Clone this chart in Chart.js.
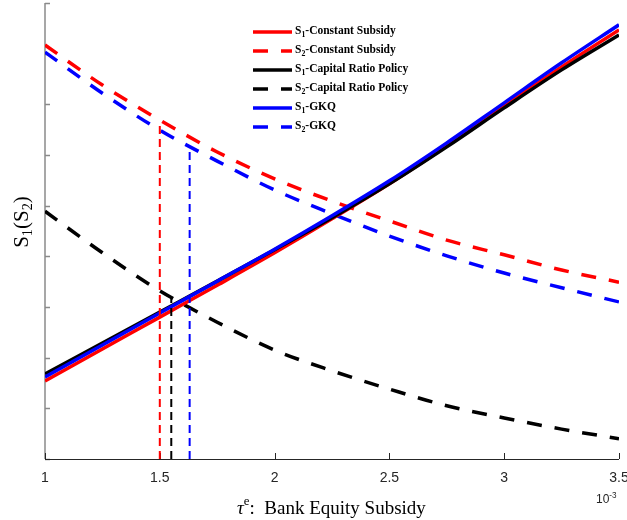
<!DOCTYPE html>
<html>
<head>
<meta charset="utf-8">
<script src="https://cdn.jsdelivr.net/npm/chart.js@4"></script>
<style>
  html, body { margin: 0; padding: 0; background: #fff; }
</style>
</head>
<body>
<canvas id="grafico" width="627" height="520"></canvas>
<script>
// subsidio (en unidades de 10^-3)
const subsidio = [1, 1.25, 1.5, 1.75, 2, 2.25, 2.5, 2.75, 3, 3.25, 3.5];

const s1Constante = [1.54, 2.17, 2.80, 3.43, 4.07, 4.74, 5.43, 6.18, 6.97, 7.74, 8.47];
const s2Constante = [8.17, 7.38, 6.69, 6.06, 5.53, 5.09, 4.70, 4.32, 4.03, 3.73, 3.49];
const s1Capital   = [1.68, 2.29, 2.90, 3.51, 4.13, 4.76, 5.43, 6.16, 6.93, 7.68, 8.37];
const s2Capital   = [4.89, 4.07, 3.32, 2.70, 2.15, 1.74, 1.38, 1.05, 0.81, 0.59, 0.40];
const s1Gkq       = [1.62, 2.25, 2.88, 3.51, 4.14, 4.80, 5.49, 6.24, 7.03, 7.82, 8.57];
const s2Gkq       = [8.03, 7.22, 6.49, 5.88, 5.31, 4.84, 4.40, 4.01, 3.67, 3.38, 3.10];

// lineas verticales: subsidio y altura
const cortesX = [1.5, 1.55, 1.63];
const cortesY = [6.64, 3.20, 6.12];

const ticksX = [1, 1.5, 2, 2.5, 3, 3.5];
const etiquetasX = ['1', '1.5', '2', '2.5', '3', '3.5'];
const ticksY = [0, 1, 2, 3, 4, 5, 6, 7, 8, 9];

const politicas = ['Constant Subsidy', 'Capital Ratio Policy', 'GKQ'];
const colores = ['#ff0000', '#000000', '#0000ff'];

const puntos = (ys) => subsidio.map((x, i) => ({ x: x, y: ys[i] }));

function curva(ys, color, punteada, orden) {
    return {
        data: puntos(ys),
        borderColor: color,
        borderWidth: 3.5,
        borderDash: punteada ? [15, 13] : [],
        cubicInterpolationMode: 'monotone',
        pointRadius: 0,
        order: orden
    };
}

function vertical(i, color) {
    return {
        data: [{ x: cortesX[i], y: 0 }, { x: cortesX[i], y: cortesY[i] }],
        borderColor: color,
        borderWidth: 2,
        borderDash: [8, 5],
        pointRadius: 0,
        order: 0
    };
}

const datasets = [
    curva(s1Constante, colores[0], false, 3),
    curva(s2Constante, colores[0], true, 5),
    curva(s1Capital, colores[1], false, 2),
    curva(s2Capital, colores[1], true, 6),
    curva(s1Gkq, colores[2], false, 1),
    curva(s2Gkq, colores[2], true, 4),
    vertical(0, colores[0]),
    vertical(1, colores[1]),
    vertical(2, colores[2])
];

// texto con subindices / superindices
function textoMixto(ctx, x, y, trozos, size, peso, familia) {
    trozos.forEach(([t, tipo]) => {
        const s = tipo === 'n' ? size : size * 0.68;
        ctx.font = `${peso} ${s}px ${familia}`;
        const dy = tipo === 'sub' ? size * 0.32 : tipo === 'sup' ? -size * 0.38 : 0;
        ctx.fillText(t, x, y + dy);
        x += ctx.measureText(t).width;
    });
    return x;
}

const ejes = {
    id: 'ejes',
    beforeDatasetsDraw(chart) {
        const { ctx, chartArea: a, scales: { x, y } } = chart;
        ctx.save();
        // eje y
        ctx.strokeStyle = '#8a8a8a';
        ctx.lineWidth = 1.5;
        ctx.beginPath();
        ctx.moveTo(a.left, a.top);
        ctx.lineTo(a.left, a.bottom);
        ticksY.forEach(v => {
            const py = Math.round(y.getPixelForValue(v)) + 0.5;
            ctx.moveTo(a.left, py);
            ctx.lineTo(a.left + 5, py);
        });
        ctx.stroke();
        // eje x
        ctx.strokeStyle = '#262626';
        ctx.lineWidth = 1;
        ctx.beginPath();
        ctx.moveTo(a.left, a.bottom + 0.5);
        ctx.lineTo(a.right, a.bottom + 0.5);
        ticksX.forEach(v => {
            const px = Math.round(x.getPixelForValue(v)) + 0.5;
            ctx.moveTo(px, a.bottom);
            ctx.lineTo(px, a.bottom - 6);
        });
        ctx.stroke();
        ctx.restore();
    },
    afterDraw(chart) {
        const { ctx, chartArea: a, scales: { x } } = chart;
        ctx.save();
        ctx.fillStyle = '#262626';
        ctx.font = '14px "Liberation Sans"';
        ctx.textAlign = 'center';
        ctx.textBaseline = 'middle';
        ticksX.forEach((v, i) => ctx.fillText(etiquetasX[i], x.getPixelForValue(v), a.bottom + 19));

        // factor de escala
        ctx.textAlign = 'left';
        textoMixto(ctx, a.right - 23, a.bottom + 41, [['10', 'n'], ['-3', 'sup']], 12, 'normal', '"Liberation Sans"');

        // titulo eje x
        ctx.fillStyle = '#000';
        const fam = '"Liberation Serif"';
        let px = 237;
        const py = a.bottom + 50;
        ctx.font = `italic 19px ${fam}`;
        ctx.fillText('\u03c4', px, py);
        px += ctx.measureText('\u03c4').width;
        textoMixto(ctx, px, py, [['e', 'sup'], [':  Bank Equity Subsidy', 'n']], 19, 'normal', fam);

        // titulo eje y
        ctx.translate(a.left - 23, (a.top + a.bottom) / 2 - 9);
        ctx.rotate(-Math.PI / 2);
        const trozosY = [['S', 'n'], ['1', 'sub'], ['(S', 'n'], ['2', 'sub'], [')', 'n']];
        let ancho = 0;
        trozosY.forEach(([t, tipo]) => {
            ctx.font = `${tipo === 'n' ? 21 : 21 * 0.68}px ${fam}`;
            ancho += ctx.measureText(t).width;
        });
        textoMixto(ctx, -ancho / 2, 0, trozosY, 21, 'normal', fam);
        ctx.restore();
    }
};

const leyenda = {
    id: 'leyenda',
    afterDraw(chart) {
        const { ctx } = chart;
        ctx.save();
        ctx.textBaseline = 'middle';
        ctx.textAlign = 'left';
        ctx.fillStyle = '#000';
        let fila = 0;
        politicas.forEach((nombre, p) => {
            [1, 2].forEach(s => {
                const ds = chart.data.datasets[p * 2 + s - 1];
                const yy = 32 + fila * 19;
                ctx.strokeStyle = ds.borderColor;
                ctx.lineWidth = ds.borderWidth;
                ctx.setLineDash(ds.borderDash);
                ctx.beginPath();
                ctx.moveTo(253, yy);
                ctx.lineTo(292, yy);
                ctx.stroke();
                ctx.setLineDash([]);
                textoMixto(ctx, 295, yy - 1, [['S', 'n'], [String(s), 'sub'], ['-' + nombre, 'n']], 11.5, 'bold', '"Liberation Serif"');
                fila++;
            });
        });
        ctx.restore();
    }
};

new Chart(document.getElementById('grafico'), {
    type: 'line',
    data: { datasets: datasets },
    options: {
        responsive: false,
        animation: false,
        layout: { padding: { left: 45, right: 8, top: 3, bottom: 61 } },
        plugins: { legend: { display: false }, tooltip: { enabled: false } },
        scales: {
            x: { type: 'linear', min: 1, max: 3.5, display: false },
            y: { min: 0, max: 9, display: false }
        }
    },
    plugins: [ejes, leyenda]
});
</script>
</body>
</html>
